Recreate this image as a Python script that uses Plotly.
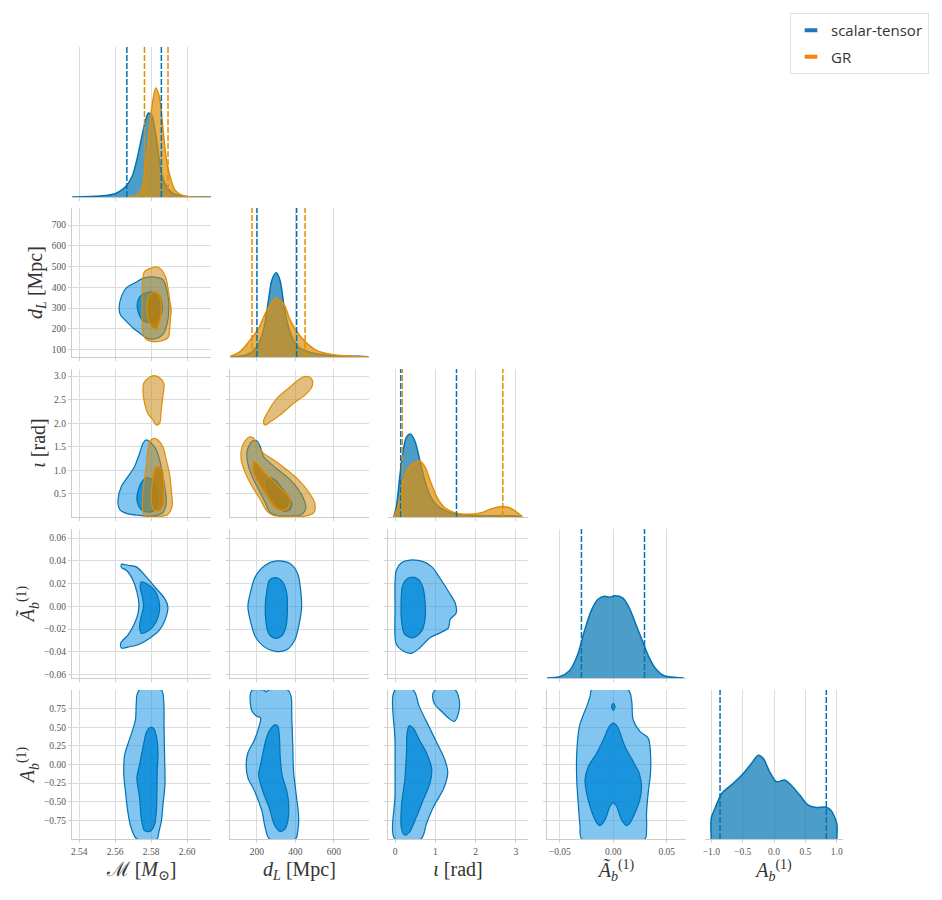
import plotly.graph_objects as go

BLUE = "#0173b2"
ORANGE = "#de8f05"
SERIF = "Liberation Serif, DejaVu Serif, serif"

# ---- tick values / labels ----
mc_ticks = [2.54, 2.56, 2.58, 2.60]
mc_labels = ["2.54", "2.56", "2.58", "2.60"]
dl_xticks = [200, 400, 600]
dl_yticks = [100, 200, 300, 400, 500, 600, 700]
iota_xticks = [0, 1, 2, 3]
iota_yticks = [0.5, 1.0, 1.5, 2.0, 2.5, 3.0]
iota_ylabels = ["0.5", "1.0", "1.5", "2.0", "2.5", "3.0"]
at_xticks = [-0.05, 0.0, 0.05]
at_xlabels = ["−0.05", "0.00", "0.05"]
at_yticks = [-0.06, -0.04, -0.02, 0.0, 0.02, 0.04, 0.06]
at_ylabels = ["−0.06", "−0.04", "−0.02", "0.00", "0.02", "0.04", "0.06"]
ab_xticks = [-1.0, -0.5, 0.0, 0.5, 1.0]
ab_xlabels = ["−1.0", "−0.5", "0.0", "0.5", "1.0"]
ab_yticks = [-0.75, -0.5, -0.25, 0.0, 0.25, 0.5, 0.75]
ab_ylabels = ["−0.75", "−0.50", "−0.25", "0.00", "0.25", "0.50", "0.75"]

# ---- 1D marginals (relative density) ----
mc_x_st = [2.5361, 2.5517, 2.5600, 2.5656, 2.5693, 2.5720, 2.5748, 2.5767, 2.5785,
           2.5804, 2.5822, 2.5841, 2.5859, 2.5887, 2.5924, 2.5998, 2.6133]
mc_d_st = [0, 1, 3.3, 10, 20, 36.7, 60, 75, 84, 81.7, 66.7, 43, 23, 10, 3.3, 0.5, 0]
mc_x_gr = [2.5665, 2.5720, 2.5748, 2.5767, 2.5785, 2.5804, 2.5826, 2.5846, 2.5865,
           2.5883, 2.5906, 2.5933, 2.5980, 2.6133]
mc_d_gr = [0, 1.7, 8.3, 30, 56.7, 90, 109, 100, 70, 40, 20, 6.7, 1, 0]

dl_x_st = [62, 148, 200, 234, 260, 277, 300, 320, 341, 363, 389, 423, 509, 595, 733, 779]
dl_d_st = [0, 2.3, 10.7, 27.3, 57.3, 77, 84.7, 77, 50.7, 30.7, 17.3, 9, 3.3, 1.3, 0.7, 0.3]
dl_x_gr = [62, 114, 166, 209, 252, 296, 337, 372, 406, 458, 509, 595, 698, 779]
dl_d_gr = [0.7, 5.7, 17.3, 29, 47.3, 59, 54, 37.3, 25.7, 14, 6.7, 2.3, 0.7, 0]

iota_x_st = [-0.033, 0.033, 0.117, 0.2, 0.283, 0.383, 0.492, 0.617, 0.742, 0.867,
             1.033, 1.283, 1.533, 2.033, 2.533, 2.867, 3.158]
iota_d_st = [0, 10.7, 40.7, 67, 81, 84, 77, 57, 37, 22, 12, 5.7, 2.7, 1.3, 1.3, 1.3, 0.3]
iota_x_gr = [-0.033, 0.075, 0.2, 0.325, 0.45, 0.617, 0.742, 0.867, 1.033, 1.2,
             1.45, 1.783, 2.117, 2.367, 2.617, 2.825, 2.992, 3.158]
iota_d_gr = [0, 10.7, 34, 49, 54.7, 56.7, 50.7, 37.3, 20.7, 10.7, 4.7, 2.7, 4, 8,
             10.3, 9.7, 5.7, 0.3]

at_x_st = [-0.0627, -0.0503, -0.041, -0.0332, -0.027, -0.0208, -0.0146, -0.0084, -0.0037,
           0.0009, 0.0087, 0.0149, 0.0211, 0.0273, 0.0335, 0.0398, 0.0475, 0.066]
at_d_st = [0, 1.3, 7.3, 24, 47.3, 67.3, 79, 82.3, 81.3, 82.7, 80.7, 70.7, 54, 37.3,
           20.7, 9, 2.3, 0]

ab_x_st = [-1.0, -1.0, -0.94, -0.83, -0.65, -0.49, -0.36, -0.25, -0.17, -0.07, 0.04,
           0.17, 0.27, 0.41, 0.54, 0.67, 0.83, 0.91, 1.0, 1.0]
ab_d_st = [0, 21, 31, 46, 56, 66, 76, 84.3, 81, 67.7, 57.7, 59.3, 54.3, 44.3, 34.3,
           31.7, 32, 28.7, 16, 0]

# 90% credible bounds
mc_q_st, mc_q_gr = [2.5665, 2.5857], [2.5763, 2.5894]
dl_q_st, dl_q_gr = [200, 406], [174, 450]
iota_q_st, iota_q_gr = [0.14, 1.525], [0.18, 2.675]
at_q_st = [-0.0298, 0.0292]
ab_q_st = [-0.86, 0.834]

# ---- 2D credible contours (outer / inner), (x, y) ----
mc_dl_st_outer = [(2.5622, 300), (2.5635, 356), (2.5662, 397), (2.5708, 421), (2.5764, 445),
                  (2.5819, 449), (2.5865, 437), (2.5889, 381), (2.5899, 300), (2.5888, 220),
                  (2.5865, 172), (2.5819, 151), (2.5773, 156), (2.5736, 180), (2.5699, 204),
                  (2.5662, 236), (2.5629, 268)]
mc_dl_st_inner = [(2.5722, 316), (2.5735, 352), (2.5763, 371), (2.5800, 378), (2.5837, 368),
                  (2.5856, 340), (2.5862, 300), (2.5852, 260), (2.5828, 237), (2.5791, 229),
                  (2.5753, 241), (2.5731, 273)]
mc_dl_gr_outer = [(2.5763, 475), (2.5791, 490), (2.5828, 498), (2.5856, 486), (2.5880, 451),
                  (2.5894, 395), (2.5903, 340), (2.5912, 292), (2.5907, 244), (2.5903, 197),
                  (2.5894, 157), (2.5856, 141), (2.5810, 138), (2.5772, 149), (2.5753, 189),
                  (2.5750, 244), (2.5750, 308), (2.5750, 371), (2.5753, 435)]
mc_dl_gr_inner = [(2.5776, 308), (2.5787, 356), (2.5813, 376), (2.5837, 371), (2.5852, 340),
                  (2.5856, 292), (2.5847, 237), (2.5828, 197), (2.5806, 205), (2.5787, 237),
                  (2.5778, 268)]

mc_iota_st_outer = [(2.5773, 1.645), (2.5801, 1.575), (2.5829, 1.434), (2.5856, 1.083),
                    (2.5875, 0.662), (2.5884, 0.311), (2.5865, 0.10), (2.5810, 0.03),
                    (2.5736, 0.044), (2.5662, 0.086), (2.5625, 0.17), (2.5616, 0.381),
                    (2.5635, 0.662), (2.5672, 0.872), (2.5708, 1.083), (2.5736, 1.364),
                    (2.5755, 1.575)]
mc_iota_st_inner = [(2.5773, 0.837), (2.5810, 0.788), (2.5832, 0.591), (2.5838, 0.381),
                    (2.5825, 0.17), (2.5792, 0.114), (2.5745, 0.17), (2.5721, 0.381),
                    (2.5732, 0.627), (2.5750, 0.767)]
mc_iota_gr_outer = [(2.5814, 1.68), (2.5838, 1.645), (2.5865, 1.504), (2.5884, 1.223),
                    (2.5902, 0.943), (2.5912, 0.591), (2.5917, 0.24), (2.5893, 0.065),
                    (2.5829, 0.016), (2.5764, 0.03), (2.5751, 0.24), (2.5758, 0.662),
                    (2.5773, 1.083), (2.5782, 1.434), (2.5792, 1.61)]
mc_iota_gr_inner = [(2.5829, 1.069), (2.5856, 1.048), (2.5869, 0.802), (2.5871, 0.521),
                    (2.5865, 0.24), (2.5838, 0.135), (2.5810, 0.184), (2.5801, 0.451),
                    (2.5806, 0.732), (2.5814, 0.943)]
mc_iota_gr_island = [(2.5773, 2.923), (2.5810, 3.007), (2.5847, 2.965), (2.5871, 2.838),
                     (2.5865, 2.558), (2.5856, 2.277), (2.5847, 1.996), (2.5829, 1.961),
                     (2.5810, 2.066), (2.5782, 2.207), (2.5764, 2.417), (2.5755, 2.663),
                     (2.5758, 2.838)]

dl_iota_st_outer = [(174, 1.61), (200, 1.624), (217, 1.504), (234, 1.294), (269, 1.153),
                    (320, 0.978), (372, 0.802), (415, 0.591), (444, 0.381), (454, 0.205),
                    (432, 0.065), (372, 0.03), (303, 0.044), (269, 0.10), (243, 0.311),
                    (209, 0.591), (174, 0.872), (152, 1.153), (148, 1.399)]
dl_iota_st_inner = [(269, 0.837), (294, 0.802), (329, 0.627), (363, 0.451), (380, 0.311),
                    (372, 0.17), (337, 0.135), (312, 0.24), (277, 0.416), (252, 0.627),
                    (252, 0.767)]
dl_iota_gr_outer = [(157, 1.701), (183, 1.68), (200, 1.539), (234, 1.364), (286, 1.223),
                    (355, 1.013), (415, 0.802), (466, 0.556), (500, 0.311), (495, 0.10),
                    (449, 0.03), (372, 0.016), (286, 0.044), (252, 0.135), (217, 0.381),
                    (174, 0.662), (140, 0.943), (118, 1.223), (123, 1.504)]
dl_iota_gr_inner = [(183, 1.188), (200, 1.153), (234, 0.978), (277, 0.802), (320, 0.627),
                    (355, 0.486), (372, 0.346), (358, 0.184), (320, 0.156), (286, 0.24),
                    (252, 0.451), (209, 0.732), (183, 0.943)]
dl_iota_gr_island = [(234, 2.031), (252, 2.207), (303, 2.523), (372, 2.768), (423, 2.944),
                     (458, 2.993), (483, 2.944), (488, 2.803), (458, 2.628), (389, 2.417),
                     (320, 2.171), (269, 2.031), (243, 1.961)]

mc_at_st_outer = [(2.5635, 0.037), (2.5672, 0.0361), (2.5718, 0.0347), (2.5773, 0.0259),
                  (2.5828, 0.0157), (2.5875, 0.007), (2.5893, -0.0003), (2.5884, -0.009),
                  (2.5847, -0.0207), (2.5792, -0.028), (2.5727, -0.0338), (2.5672, -0.0358),
                  (2.5635, -0.0367), (2.5631, -0.0323), (2.5672, -0.025), (2.5708, -0.0149),
                  (2.5727, -0.0061), (2.5732, 0.0026), (2.5721, 0.0128), (2.5699, 0.023),
                  (2.5662, 0.0317), (2.5635, 0.0341)]
mc_at_st_inner = [(2.5745, 0.0215), (2.5773, 0.0201), (2.5819, 0.0143), (2.5843, 0.0055),
                  (2.5847, -0.0032), (2.5829, -0.0134), (2.5792, -0.0207), (2.5745, -0.0236),
                  (2.5736, -0.0178), (2.5745, -0.009), (2.5758, -0.0003), (2.5751, 0.0084),
                  (2.5740, 0.0157)]

dl_at_st_outer = [(303, 0.0399), (372, 0.0376), (411, 0.0288), (427, 0.0143), (432, -0.0003),
                  (420, -0.0149), (397, -0.0294), (355, -0.0382), (294, -0.0396),
                  (234, -0.0352), (191, -0.0265), (169, -0.0149), (153, -0.0003),
                  (165, 0.0114), (191, 0.0259), (243, 0.0361)]
dl_at_st_inner = [(294, 0.0253), (333, 0.0215), (355, 0.0113), (358, -0.0032),
                  (351, -0.0178), (329, -0.0259), (294, -0.028), (260, -0.0236),
                  (246, -0.012), (243, -0.0003), (252, 0.0143), (265, 0.023)]

iota_at_st_outer = [(0.0, 0.0218), (0.033, 0.032), (0.158, 0.0384), (0.367, 0.0407),
                    (0.70, 0.0393), (0.908, 0.0349), (1.117, 0.0247), (1.325, 0.0131),
                    (1.492, 0.0029), (1.517, -0.0058), (1.367, -0.0116), (1.325, -0.0189),
                    (1.117, -0.0233), (0.867, -0.0276), (0.617, -0.0364), (0.408, -0.0413),
                    (0.20, -0.0393), (0.033, -0.0335), (0.0, -0.0268), (0.0, 0.0)]
iota_at_st_inner = [(0.408, 0.0256), (0.575, 0.0239), (0.683, 0.0175), (0.742, 0.0058),
                    (0.742, -0.0116), (0.658, -0.0218), (0.45, -0.0276), (0.242, -0.0247),
                    (0.167, -0.0146), (0.15, 0.0029), (0.183, 0.0175), (0.283, 0.0239)]

mc_ab_st_outer = [(2.5736, 1.0), (2.5857, 1.0), (2.5870, 0.851), (2.5872, 0.493),
                  (2.5875, 0.09), (2.5877, -0.269), (2.5866, -0.538), (2.5857, -0.762),
                  (2.5844, -0.896), (2.5832, -1.0), (2.5721, -1.0), (2.5689, -0.851),
                  (2.5670, -0.627), (2.5657, -0.358), (2.5648, -0.134), (2.5653, 0.134),
                  (2.5670, 0.269), (2.5695, 0.448), (2.5713, 0.605), (2.5717, 0.806),
                  (2.5722, 0.941)]
mc_ab_st_inner = [(2.5791, 0.493), (2.5814, 0.484), (2.5829, 0.381), (2.5838, 0.179),
                  (2.5834, -0.09), (2.5832, -0.403), (2.5829, -0.627), (2.5819, -0.806),
                  (2.5795, -0.896), (2.5763, -0.887), (2.5745, -0.717), (2.5736, -0.448),
                  (2.5721, -0.179), (2.5736, 0.0), (2.5758, 0.269), (2.5773, 0.426)]

dl_ab_st_outer = [(177, 1.0), (233, 1.0), (247, 0.977), (261, 1.0), (360, 1.0), (377, 0.918),
                  (381, 0.627), (386, 0.269), (390, -0.09), (404, -0.403), (417, -0.717),
                  (412, -0.896), (400, -1.0), (266, -1.0), (243, -0.851), (226, -0.627),
                  (188, -0.358), (153, -0.179), (144, 0.0), (153, 0.157), (188, 0.336),
                  (214, 0.538), (219, 0.627), (197, 0.65), (174, 0.717), (165, 0.851),
                  (167, 0.96)]
dl_ab_st_inner = [(290, 0.529), (308, 0.515), (317, 0.358), (320, 0.134), (330, -0.134),
                  (355, -0.358), (365, -0.538), (360, -0.762), (343, -0.874), (317, -0.896),
                  (290, -0.806), (264, -0.582), (230, -0.358), (209, -0.134), (221, 0.022),
                  (233, 0.179), (247, 0.336), (264, 0.448)]

iota_ab_st_outer = [(0.0, 1.0), (0.45, 1.0), (0.60, 0.78), (0.85, 0.5), (1.05, 0.278),
                    (1.242, 0.054), (1.308, -0.116), (1.20, -0.33), (0.967, -0.555),
                    (0.783, -0.788), (0.642, -1.0), (0.0, -1.0), (0.0, -0.4), (0.0, 0.3)]
iota_ab_st_island = [(0.992, 1.0), (1.492, 1.0), (1.592, 0.869), (1.575, 0.69), (1.467, 0.578),
                     (1.325, 0.623), (1.158, 0.712), (0.992, 0.802), (0.933, 0.914)]
iota_ab_st_inner = [(0.35, 0.52), (0.45, 0.488), (0.60, 0.332), (0.783, 0.152), (0.908, -0.049),
                    (0.867, -0.251), (0.70, -0.475), (0.533, -0.699), (0.367, -0.90),
                    (0.242, -0.945), (0.158, -0.856), (0.158, -0.564), (0.242, -0.206),
                    (0.283, 0.152), (0.30, 0.421)]

at_ab_st_outer = [(-0.0202, 1.0), (0.014, 1.0), (0.0171, 0.869), (0.0186, 0.60), (0.0248, 0.444),
                  (0.0326, 0.354), (0.0348, 0.152), (0.0348, -0.116), (0.0326, -0.385),
                  (0.0311, -0.654), (0.0311, -0.878), (0.0295, -1.0), (-0.0295, -1.0),
                  (-0.0311, -0.833), (-0.0326, -0.564), (-0.0342, -0.206), (-0.0342, 0.152),
                  (-0.0317, 0.511), (-0.028, 0.668), (-0.0248, 0.78), (-0.0217, 0.914)]
at_ab_st_inner = [(0.0, 0.556), (0.0037, 0.511), (0.0109, 0.242), (0.0186, 0.04),
                  (0.0242, -0.116), (0.0264, -0.296), (0.0248, -0.475), (0.0202, -0.654),
                  (0.0155, -0.788), (0.0124, -0.82), (0.0078, -0.744), (0.0031, -0.564),
                  (0.0, -0.511), (-0.0031, -0.564), (-0.0078, -0.744), (-0.0124, -0.82),
                  (-0.0162, -0.766), (-0.0217, -0.564), (-0.0255, -0.34), (-0.0264, -0.206),
                  (-0.0233, -0.027), (-0.0155, 0.152), (-0.0093, 0.332), (-0.0037, 0.511)]
at_ab_st_inner_dot = [(0.0, 0.82), (0.0016, 0.775), (0.0, 0.727), (-0.0016, 0.775)]

# ---- layout geometry (pixels; the page body adds an 8px offset) ----
W, H = 942, 900
OFF = 8
col_px = [(72, 211), (230, 369), (388, 528), (547, 686), (705, 843)]
row_px = [(47, 197), (208, 357), (369, 517), (529, 678), (690, 839)]

x_ranges = [[2.536, 2.6133], [60, 782], [-0.175, 3.3], [-0.062, 0.068], [-1.1, 1.1]]
y_ranges = [None, [64, 782], [0.01, 3.15], [-0.063, 0.068], [-1.0, 1.0]]
diag_top = [150, 150, 150, 150, 150]
x_ticks = [(mc_ticks, mc_labels), (dl_xticks, [str(v) for v in dl_xticks]),
           (iota_xticks, [str(v) for v in iota_xticks]), (at_xticks, at_xlabels),
           (ab_xticks, ab_xlabels)]
y_ticks = [None, (dl_yticks, [str(v) for v in dl_yticks]), (iota_yticks, iota_ylabels),
           (at_yticks, at_ylabels), (ab_yticks, ab_ylabels)]
titles = ["ℳ [<i>M</i><sub>⊙</sub>]", "<i>d<sub>L</sub></i> [Mpc]", "<i>ι</i> [rad]",
          "<i>Ã</i><sub><i>b</i></sub><sup>(1)</sup>", "<i>A</i><sub><i>b</i></sub><sup>(1)</sup>"]

ST_OUT, ST_IN = "rgba(30,150,230,0.55)", "rgba(0,135,215,0.8)"
GR_OUT, GR_IN = "rgba(200,135,20,0.55)", "rgba(185,125,10,0.8)"
BLUE_A, ORANGE_A = "rgba(1,115,178,0.7)", "rgba(222,143,5,0.7)"

fig = go.Figure()

panels = {}
n = 0
for r in range(5):
    for c in range(r + 1):
        n += 1
        panels[(r, c)] = "" if n == 1 else str(n)

# legend entries
for name, col in [("scalar-tensor", BLUE), ("GR", ORANGE)]:
    fig.add_trace(go.Scatter(x=[None], y=[None], mode="markers", name=name, legendgroup=name,
                             marker=dict(symbol="line-ew-open", size=9,
                                         line=dict(width=4, color=col))))


def region(rc, pts, fillcolor, linecolor):
    s = panels[rc]
    xs = [p[0] for p in pts] + [pts[0][0]]
    ys = [p[1] for p in pts] + [pts[0][1]]
    fig.add_trace(go.Scatter(x=xs, y=ys, mode="lines", fill="toself", fillcolor=fillcolor,
                             line=dict(color=linecolor, width=1.2, shape="spline", smoothing=0.9),
                             xaxis="x" + s, yaxis="y" + s, showlegend=False, hoverinfo="skip"))


def marginal(k, xs, ds, color, fillcolor):
    s = panels[(k, k)]
    fig.add_trace(go.Scatter(x=xs, y=ds, mode="lines", fill="tozeroy", fillcolor=fillcolor,
                             line=dict(color=color, width=1.5, shape="spline", smoothing=0.8),
                             xaxis="x" + s, yaxis="y" + s, showlegend=False, hoverinfo="skip"))


def bounds(k, qs, color):
    s = panels[(k, k)]
    for q in qs:
        fig.add_trace(go.Scatter(x=[q, q], y=[0, diag_top[k]], mode="lines",
                                 line=dict(color=color, width=1.5, dash="6px,2px"),
                                 xaxis="x" + s, yaxis="y" + s, showlegend=False,
                                 hoverinfo="skip"))


marginal(0, mc_x_st, mc_d_st, BLUE, BLUE_A)
marginal(0, mc_x_gr, mc_d_gr, ORANGE, ORANGE_A)
bounds(0, mc_q_st, BLUE)
bounds(0, mc_q_gr, ORANGE)
marginal(1, dl_x_st, dl_d_st, BLUE, BLUE_A)
marginal(1, dl_x_gr, dl_d_gr, ORANGE, ORANGE_A)
bounds(1, dl_q_st, BLUE)
bounds(1, dl_q_gr, ORANGE)
marginal(2, iota_x_st, iota_d_st, BLUE, BLUE_A)
marginal(2, iota_x_gr, iota_d_gr, ORANGE, ORANGE_A)
bounds(2, iota_q_st, BLUE)
bounds(2, iota_q_gr, ORANGE)
marginal(3, at_x_st, at_d_st, BLUE, BLUE_A)
bounds(3, at_q_st, BLUE)
marginal(4, ab_x_st, ab_d_st, BLUE, BLUE_A)
bounds(4, ab_q_st, BLUE)

region((1, 0), mc_dl_st_outer, ST_OUT, BLUE)
region((1, 0), mc_dl_st_inner, ST_IN, BLUE)
region((1, 0), mc_dl_gr_outer, GR_OUT, ORANGE)
region((1, 0), mc_dl_gr_inner, GR_IN, ORANGE)

region((2, 0), mc_iota_st_outer, ST_OUT, BLUE)
region((2, 0), mc_iota_st_inner, ST_IN, BLUE)
region((2, 0), mc_iota_gr_outer, GR_OUT, ORANGE)
region((2, 0), mc_iota_gr_island, GR_OUT, ORANGE)
region((2, 0), mc_iota_gr_inner, GR_IN, ORANGE)

region((2, 1), dl_iota_st_outer, ST_OUT, BLUE)
region((2, 1), dl_iota_st_inner, ST_IN, BLUE)
region((2, 1), dl_iota_gr_outer, GR_OUT, ORANGE)
region((2, 1), dl_iota_gr_island, GR_OUT, ORANGE)
region((2, 1), dl_iota_gr_inner, GR_IN, ORANGE)

region((3, 0), mc_at_st_outer, ST_OUT, BLUE)
region((3, 0), mc_at_st_inner, ST_IN, BLUE)
region((3, 1), dl_at_st_outer, ST_OUT, BLUE)
region((3, 1), dl_at_st_inner, ST_IN, BLUE)
region((3, 2), iota_at_st_outer, ST_OUT, BLUE)
region((3, 2), iota_at_st_inner, ST_IN, BLUE)

region((4, 0), mc_ab_st_outer, ST_OUT, BLUE)
region((4, 0), mc_ab_st_inner, ST_IN, BLUE)
region((4, 1), dl_ab_st_outer, ST_OUT, BLUE)
region((4, 1), dl_ab_st_inner, ST_IN, BLUE)
region((4, 2), iota_ab_st_outer, ST_OUT, BLUE)
region((4, 2), iota_ab_st_island, ST_OUT, BLUE)
region((4, 2), iota_ab_st_inner, ST_IN, BLUE)
region((4, 3), at_ab_st_outer, ST_OUT, BLUE)
region((4, 3), at_ab_st_inner, ST_IN, BLUE)
region((4, 3), at_ab_st_inner_dot, ST_IN, BLUE)

tickfont = dict(family=SERIF, size=9.5, color="#555555")
titlefont = dict(family=SERIF, size=20, color="#333333")
base = dict(zeroline=False, automargin=False, ticks="outside", ticklen=3, tickcolor="#d0d0d0",
            gridcolor="#dcdcdc", gridwidth=1, showline=True, linecolor="#cccccc",
            linewidth=1.3, tickfont=tickfont, tickmode="array")

axes = {}
for (r, c), s in panels.items():
    xdom = [(col_px[c][0] - OFF) / W, (col_px[c][1] - OFF) / W]
    ydom = [1 - (row_px[r][1] - OFF) / H, 1 - (row_px[r][0] - OFF) / H]
    xa = dict(base, domain=xdom, anchor="y" + s, range=x_ranges[c],
              tickvals=x_ticks[c][0], ticktext=x_ticks[c][1], showticklabels=(r == 4))
    if r == 4:
        xa["title"] = dict(text=titles[c], font=titlefont, standoff=6)
    if r == c:
        ya = dict(domain=ydom, anchor="x" + s, range=[0, diag_top[r]], showgrid=False,
                  showline=False, zeroline=False, showticklabels=False, ticks="",
                  automargin=False)
    else:
        ya = dict(base, domain=ydom, anchor="x" + s, range=y_ranges[r],
                  tickvals=y_ticks[r][0], ticktext=y_ticks[r][1], showticklabels=(c == 0))
        if c == 0:
            ya["title"] = dict(text=titles[r], font=titlefont, standoff=3)
    axes["xaxis" + s] = xa
    axes["yaxis" + s] = ya

fig.update_layout(
    template="none",
    width=W, height=H,
    margin=dict(l=0, r=0, t=0, b=0),
    paper_bgcolor="white", plot_bgcolor="white",
    showlegend=True,
    legend=dict(x=(790 - OFF) / W, y=1 - (13 - OFF) / H, xanchor="left", yanchor="top",
                bgcolor="white", bordercolor="#e0e0e0", borderwidth=1,
                font=dict(family="Open Sans, Noto Sans, sans-serif", size=15, color="#333333"),
                itemwidth=30, tracegroupgap=4),
    **axes,
)

fig.write_html("out.html")
